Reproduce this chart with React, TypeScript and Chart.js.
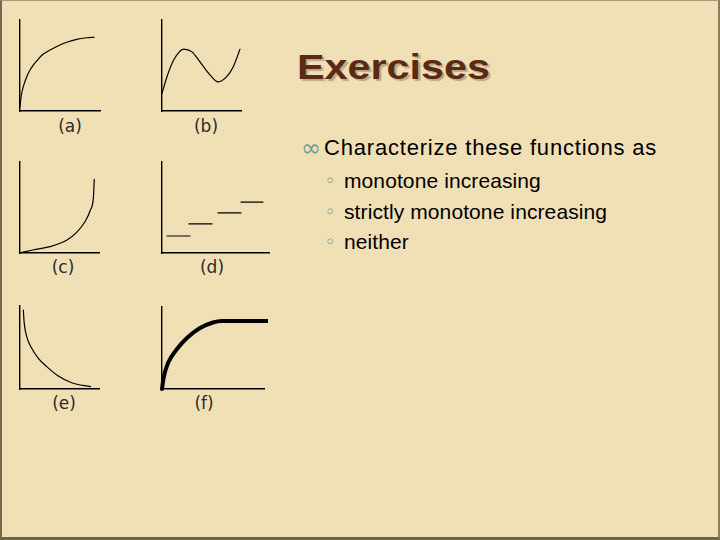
import React, { useEffect, useRef } from "react";
import { Chart, registerables } from "chart.js";
Chart.register(...registerables);

// ---- data (values in each panel's own 0..10 units) ----
const aX = [0, 0.09, 0.21, 0.41, 0.84, 1.25, 1.66, 2.29, 2.91, 3.75, 4.79, 5.84, 7.09, 8.34, 9.25];
const aY = [0.44, 1.21, 1.95, 2.67, 3.77, 4.5, 5.05, 5.71, 6.26, 6.7, 7.17, 7.55, 7.88, 8.05, 8.1];

const bX = [0, 0.63, 1.48, 2.74, 3.8, 4.81, 6.08, 7.13, 8.19, 9.02, 9.87];
const bY = [1.95, 3.77, 5.6, 6.8, 6.5, 5.4, 3.96, 3.2, 3.77, 4.87, 6.78];

const cX = [0, 1.65, 3.8, 5.9, 7.2, 8.2, 8.9, 9.3, 9.4];
const cY = [0.03, 0.33, 0.7, 1.4, 2.3, 3.4, 4.7, 6.2, 8.1];

const dStart = [0.47, 2.52, 5.23, 7.38];
const dEnd = [2.62, 4.67, 7.38, 9.44];
const dLevel = [1.87, 3.19, 4.4, 5.6];

const eX = [0.42, 0.54, 0.85, 1.48, 2.32, 3.38, 4.85, 6.54, 8.95];
const eY = [9.52, 7.9, 6.3, 4.9, 3.7, 2.7, 1.57, 0.76, 0.28];

const fX = [0, 0.15, 0.59, 1.47, 2.55, 3.73, 5.0, 5.88, 10.4];
const fY = [0, 1.34, 3.17, 4.88, 6.34, 7.44, 8.11, 8.29, 8.29];

const panelLabels = ["(a)", "(b)", "(c)", "(d)", "(e)", "(f)"];
const title = "Exercises";
const lead = "Characterize these functions as";
const options = ["monotone increasing", "strictly monotone increasing", "neither"];

const P = 4;

function pts(xs: number[], ys: number[]) {
  return xs.map((x, i) => ({ x, y: ys[i] }));
}

function line(data: any[], width = 1.2) {
  return {
    data,
    showLine: true,
    pointRadius: 0,
    borderColor: "#000",
    borderWidth: width,
    borderCapStyle: "round",
    cubicInterpolationMode: "monotone",
    fill: false,
    clip: false,
  };
}

type Area = { l: number; t: number; r: number; b: number };

function Mini({ area, datasets }: { area: Area; datasets: any[] }) {
  const ref = useRef<HTMLCanvasElement | null>(null);
  const w = area.r - area.l + 2 * P;
  const h = area.b - area.t + 2 * P;
  useEffect(() => {
    const axis = {
      type: "linear",
      min: 0,
      max: 10,
      ticks: { display: false },
      grid: { drawOnChartArea: false, drawTicks: false },
      border: { color: "#000", width: 1.4 },
    };
    const chart = new Chart(ref.current as HTMLCanvasElement, {
      type: "scatter",
      data: { datasets },
      options: {
        animation: false,
        responsive: false,
        events: [],
        layout: { padding: P },
        plugins: { legend: { display: false }, tooltip: { enabled: false } },
        scales: { x: { ...axis }, y: { ...axis } },
      } as any,
    } as any);
    return () => chart.destroy();
  }, []);
  return (
    <canvas
      ref={ref}
      width={w}
      height={h}
      style={{ position: "absolute", left: area.l - P, top: area.t - P, width: w, height: h }}
    />
  );
}

const labelStyle = (cx: number, cy: number): React.CSSProperties => ({
  position: "absolute",
  left: cx - 30,
  width: 60,
  top: cy - 9,
  height: 18,
  lineHeight: "18px",
  textAlign: "center",
  fontFamily: '"DejaVu Sans", sans-serif',
  fontSize: 17,
  color: "#2a2a2a",
});

export default function App() {
  const areas: Area[] = [
    { l: 20, t: 20, r: 100, b: 111 },
    { l: 162, t: 20, r: 241, b: 111 },
    { l: 20, t: 162, r: 99, b: 253 },
    { l: 162, t: 162, r: 269, b: 253 },
    { l: 20, t: 306, r: 99, b: 389 },
    { l: 162, t: 307, r: 264, b: 389 },
  ];
  const sets = [
    [line(pts(aX, aY))],
    [line(pts(bX, bY))],
    [line(pts(cX, cY))],
    dStart.map((s, i) => line([{ x: s, y: dLevel[i] }, { x: dEnd[i], y: dLevel[i] }])),
    [line(pts(eX, eY))],
    [line(pts(fX, fY), 4)],
  ];
  const labelPos = [
    [70, 126],
    [206, 126],
    [63, 267],
    [212, 267],
    [64, 403],
    [204, 403],
  ];
  const sans = '"Liberation Sans", Arial, sans-serif';
  return (
    <div
      style={{
        position: "absolute",
        left: 0,
        top: 0,
        width: 720,
        height: 540,
        boxSizing: "border-box",
        borderTop: "1px solid #a89c7c",
        borderLeft: "2px solid #756a4e",
        borderRight: "2px solid #8a7e60",
        borderBottom: "3px solid #6e6448",
        backgroundColor: "#f1e0b6",
        backgroundImage:
          "repeating-conic-gradient(#f3e3bb 0% 25%, #eedcb1 0% 50%)",
        backgroundSize: "4px 4px",
        overflow: "hidden",
      }}
    >
      <div style={{ position: "absolute", left: -2, top: -1, width: 720, height: 540 }}>
        {areas.map((a, i) => (
          <Mini key={i} area={a} datasets={sets[i]} />
        ))}
        {panelLabels.map((t, i) => (
          <div key={t} style={labelStyle(labelPos[i][0], labelPos[i][1])}>
            {t}
          </div>
        ))}
        <div
          style={{
            position: "absolute",
            left: 297,
            top: 49,
            fontFamily: sans,
            fontWeight: "bold",
            fontSize: 35,
            lineHeight: "35px",
            color: "#5a2a18",
            whiteSpace: "nowrap",
            transform: "scaleX(1.18)",
            transformOrigin: "left top",
            textShadow: "2px 2px 1px rgba(90,70,40,0.35)",
          }}
        >
          {title}
        </div>
        <div
          style={{
            position: "absolute",
            left: 301,
            top: 136,
            fontFamily: '"DejaVu Sans", sans-serif',
            fontSize: 24,
            lineHeight: "24px",
            color: "#6c9c9a",
          }}
        >
          ∞
        </div>
        <div
          style={{
            position: "absolute",
            left: 324,
            top: 137,
            fontFamily: sans,
            fontSize: 22,
            lineHeight: "22px",
            letterSpacing: 0.8,
            color: "#000",
            whiteSpace: "nowrap",
          }}
        >
          {lead}
        </div>
        {options.map((t, i) => {
          const base = [188, 219, 249][i];
          return (
            <React.Fragment key={t}>
              <div
                style={{
                  position: "absolute",
                  left: 325,
                  top: base - 16,
                  fontFamily: '"DejaVu Sans", sans-serif',
                  fontSize: 18,
                  lineHeight: "18px",
                  color: "#6c8c8a",
                }}
              >
                ◦
              </div>
              <div
                style={{
                  position: "absolute",
                  left: 344,
                  top: base - 17.8,
                  fontFamily: sans,
                  fontSize: 21,
                  lineHeight: "21px",
                  letterSpacing: 0.1,
                  color: "#000",
                  whiteSpace: "nowrap",
                }}
              >
                {t}
              </div>
            </React.Fragment>
          );
        })}
      </div>
    </div>
  );
}
